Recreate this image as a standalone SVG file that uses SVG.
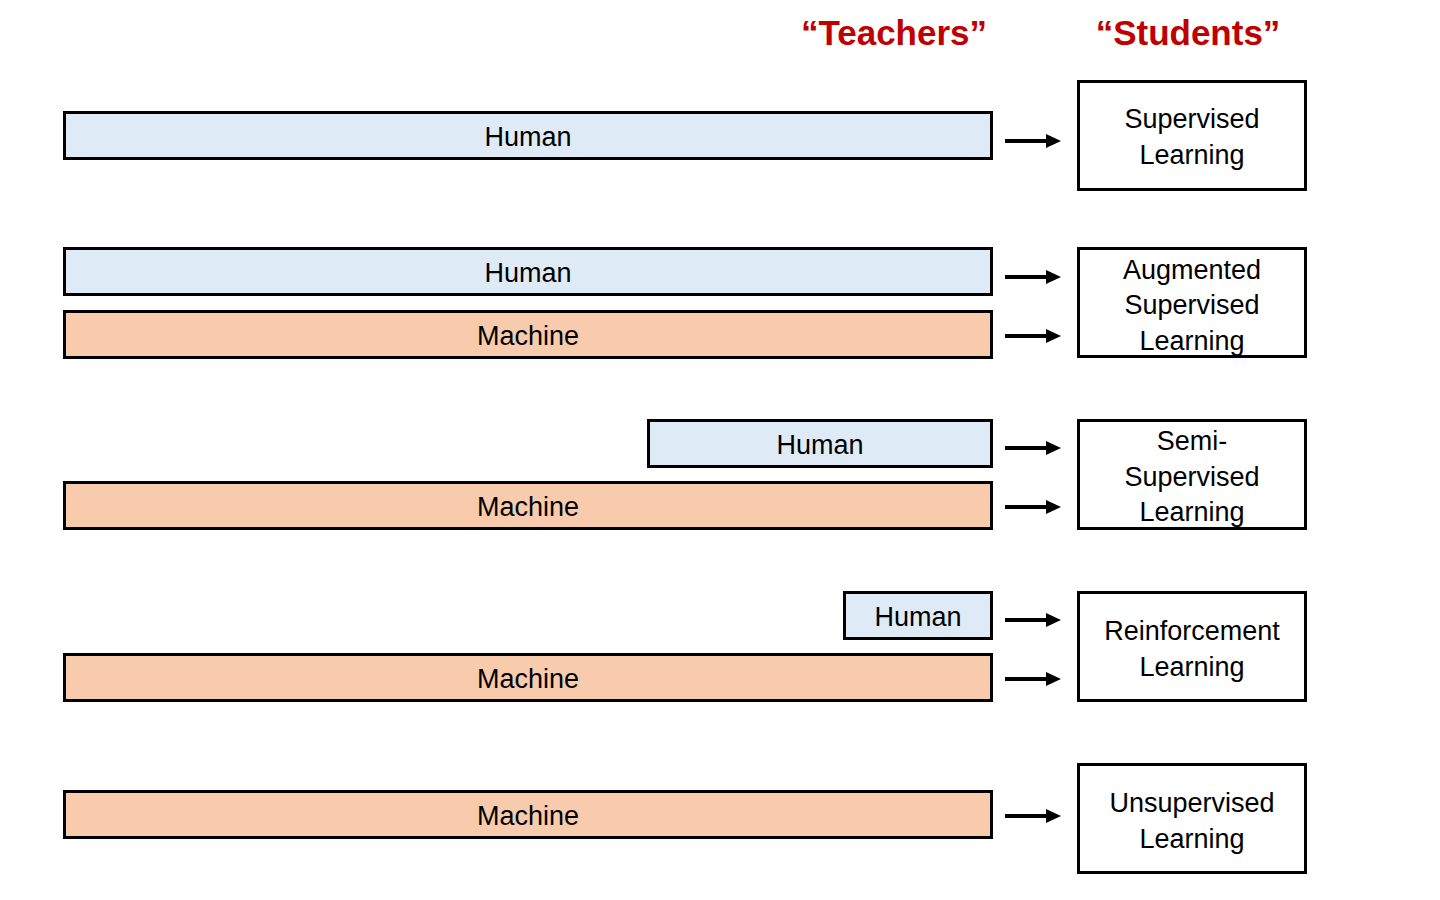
<svg xmlns="http://www.w3.org/2000/svg" width="1440" height="900" viewBox="0 0 1440 900">
<style>
.h{fill:#DEEBF7;stroke:#000;stroke-width:3}
.m{fill:#F8CBAD;stroke:#000;stroke-width:3}
.s{fill:#FFFFFF;stroke:#000;stroke-width:3}
.t{font-family:"Liberation Sans",Arial,sans-serif;font-size:27px;fill:#000;text-anchor:middle}
.ttl{font-family:"Liberation Sans",Arial,sans-serif;font-size:35px;font-weight:bold;fill:#C00000;text-anchor:middle}
.a{stroke:#000;stroke-width:4;fill:none}
</style>
<defs>
<marker id="ah" markerUnits="userSpaceOnUse" markerWidth="15" markerHeight="14" refX="1" refY="7" orient="auto">
<path d="M0,0 L15,7 L0,14 Z" fill="#000"/>
</marker>
</defs>
<rect width="1440" height="900" fill="#FFFFFF"/>
<g id="titles">
<text class="ttl" x="894" y="45">“Teachers”</text>
<text class="ttl" x="1188" y="45">“Students”</text>
</g>
<g id="row1-human"><rect class="h" x="64.5" y="112.5" width="927" height="46"/><text class="t" x="528" y="146">Human</text></g>
<g id="row2-human"><rect class="h" x="64.5" y="248.5" width="927" height="46"/><text class="t" x="528" y="282">Human</text></g>
<g id="row2-machine"><rect class="m" x="64.5" y="311.5" width="927" height="46"/><text class="t" x="528" y="345">Machine</text></g>
<g id="row3-human"><rect class="h" x="648.5" y="420.5" width="343" height="46"/><text class="t" x="820" y="454">Human</text></g>
<g id="row3-machine"><rect class="m" x="64.5" y="482.5" width="927" height="46"/><text class="t" x="528" y="516">Machine</text></g>
<g id="row4-human"><rect class="h" x="844.5" y="592.5" width="147" height="46"/><text class="t" x="918" y="626">Human</text></g>
<g id="row4-machine"><rect class="m" x="64.5" y="654.5" width="927" height="46"/><text class="t" x="528" y="688">Machine</text></g>
<g id="row5-machine"><rect class="m" x="64.5" y="791.5" width="927" height="46"/><text class="t" x="528" y="825">Machine</text></g>
<g id="supervised"><rect class="s" x="1078.5" y="81.5" width="227" height="108"/><text class="t" x="1192" y="128">Supervised</text><text class="t" x="1192" y="164">Learning</text></g>
<g id="augmented"><rect class="s" x="1078.5" y="248.5" width="227" height="108"/><text class="t" x="1192" y="279">Augmented</text><text class="t" x="1192" y="314">Supervised</text><text class="t" x="1192" y="350">Learning</text></g>
<g id="semi"><rect class="s" x="1078.5" y="420.5" width="227" height="108"/><text class="t" x="1192" y="450">Semi-</text><text class="t" x="1192" y="486">Supervised</text><text class="t" x="1192" y="521">Learning</text></g>
<g id="reinforcement"><rect class="s" x="1078.5" y="592.5" width="227" height="108"/><text class="t" x="1192" y="640">Reinforcement</text><text class="t" x="1192" y="676">Learning</text></g>
<g id="unsupervised"><rect class="s" x="1078.5" y="764.5" width="227" height="108"/><text class="t" x="1192" y="812">Unsupervised</text><text class="t" x="1192" y="848">Learning</text></g>
<g id="connectors">
<line class="a" x1="1005" y1="141" x2="1047" y2="141" marker-end="url(#ah)"/>
<line class="a" x1="1005" y1="277" x2="1047" y2="277" marker-end="url(#ah)"/>
<line class="a" x1="1005" y1="336" x2="1047" y2="336" marker-end="url(#ah)"/>
<line class="a" x1="1005" y1="448" x2="1047" y2="448" marker-end="url(#ah)"/>
<line class="a" x1="1005" y1="507" x2="1047" y2="507" marker-end="url(#ah)"/>
<line class="a" x1="1005" y1="620" x2="1047" y2="620" marker-end="url(#ah)"/>
<line class="a" x1="1005" y1="679" x2="1047" y2="679" marker-end="url(#ah)"/>
<line class="a" x1="1005" y1="816" x2="1047" y2="816" marker-end="url(#ah)"/>
</g>
</svg>
